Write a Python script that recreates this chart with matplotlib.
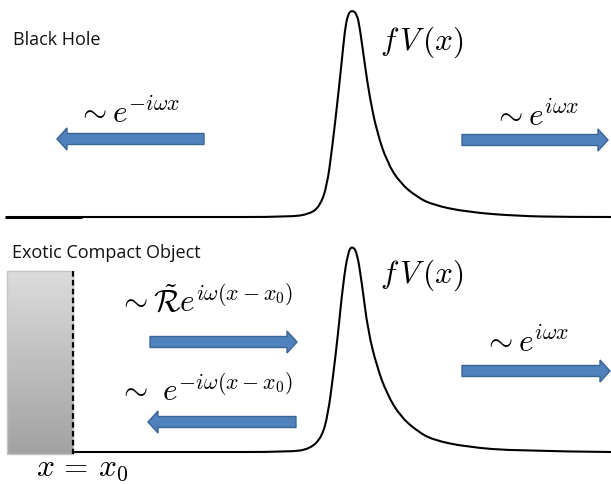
import numpy as np
import matplotlib
matplotlib.use("Agg")
import matplotlib.pyplot as plt
from matplotlib.path import Path
from matplotlib.patches import PathPatch, FancyArrow

plt.rcParams['mathtext.fontset'] = 'cm'

# ---- data (pixel units, y downwards) ----
top_x = [82, 200, 290, 310, 320, 327, 332, 337, 342, 345, 348, 352, 357, 360, 365, 370, 377, 387, 400, 417, 433, 467, 517, 567, 611]
top_y = [218, 218, 218, 215, 207, 187, 150, 107, 60, 30, 15, 11, 15, 30, 67, 100, 133, 163, 184, 198, 206, 213, 217, 218, 218]

bot_x = [73, 200, 290, 310, 322, 328, 333, 338, 343, 348, 352, 357, 362, 368, 377, 387, 400, 417, 433, 467, 517, 611]
bot_y = [453, 453, 453, 450, 438, 415, 378, 335, 285, 253, 247, 253, 285, 332, 368, 395, 417, 432, 441, 448, 452, 453]

# arrows: (tail x, tip x, centre y)
arrows = [(204, 57, 140), (462, 608, 141), (150, 297, 343), (296, 148, 423), (462, 610, 372)]

labels = ["Black Hole", "Exotic Compact Object"]
label_pos = [(13, 45), (12, 258)]

math_texts = [r"$\sim e^{-i\omega x}$", r"$\sim e^{i\omega x}$", r"$f\,V\,(x)$",
              r"$f\,V\,(x)$", r"$\sim e^{i\omega x}$",
              r"$\sim\tilde{\mathcal{R}}e^{i\omega(x-x_0)}$",
              r"$\sim\ e^{-i\omega(x-x_0)}$", r"$x\,=\,x_0$"]
math_pos = [(77, 123), (493, 126), (380, 50), (380, 283), (483, 352),
            (118, 312), (118, 402), (36, 476)]

fig = plt.figure(figsize=(6.11, 4.85), dpi=100)
ax = fig.add_axes([0, 0, 1, 1])
ax.set_xlim(0, 611)
ax.set_ylim(485, 0)
ax.axis('off')


def smooth_path(xs, ys):
    pts = np.column_stack([xs, ys]).astype(float)
    verts = [pts[0]]
    codes = [Path.MOVETO]
    for i in range(1, len(pts) - 1):
        mid = (pts[i] + pts[i + 1]) / 2
        if i == len(pts) - 2:
            mid = pts[i + 1]
        verts += [pts[i], mid]
        codes += [Path.CURVE3, Path.CURVE3]
    return Path(verts, codes)


for xs, ys in [(top_x, top_y), (bot_x, bot_y)]:
    ax.add_patch(PathPatch(smooth_path(xs, ys), fill=False, lw=1.5,
                           ec='black', capstyle='round', joinstyle='round'))

# thicker left stub on the black-hole baseline
ax.plot([5, top_x[0]], [top_y[0], top_y[0]], color='black', lw=2.2,
        solid_capstyle='butt')

# gradient wall
grad = np.linspace(0, 1, 200).reshape(-1, 1)
cmap = matplotlib.colors.LinearSegmentedColormap.from_list('g', ['#dcdcdc', '#a2a2a2'])
ax.imshow(grad, cmap=cmap, extent=[7, 73, 455, 272], aspect='auto', zorder=1)
ax.add_patch(matplotlib.patches.Rectangle((7, 272), 66, 183, fill=False,
                                          ec='#c4c4c4', lw=1, zorder=2))
ax.plot([73, 73], [272, 455], color='black', lw=1.6, ls=(0, (2.5, 1.5)), zorder=3)
ax.set_xlim(0, 611)
ax.set_ylim(485, 0)

for tail, tip, yc in arrows:
    ax.add_patch(FancyArrow(tail, yc, tip - tail, 0, width=11, head_width=22,
                            head_length=10, length_includes_head=True,
                            fc='#4f81bd', ec='#3a6494', lw=1.0, zorder=4))

for t, (x, y) in zip(labels, label_pos):
    ax.text(x, y, t, fontsize=13, family=['Open Sans', 'DejaVu Sans'],
            color='#111111', ha='left', va='baseline')

for t, (x, y) in zip(math_texts, math_pos):
    ax.text(x, y, t, fontsize=22.5, ha='left', va='baseline')

fig.savefig('out.png', dpi=100)
